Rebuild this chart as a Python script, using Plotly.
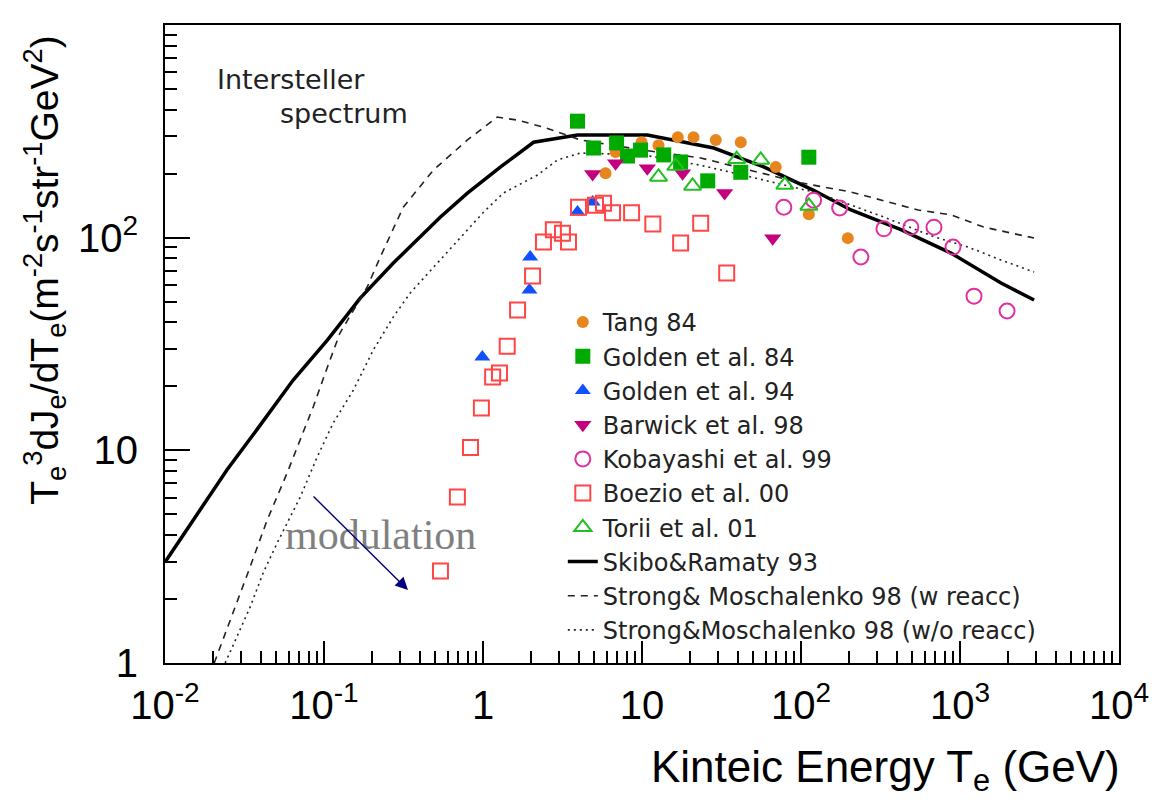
import plotly.graph_objects as go

# ---------------- data ----------------
tang_x = [5.90, 6.82, 9.94, 12.7, 16.8, 21.1, 29.1, 41.8, 69.4, 112, 197]
tang_y = [201, 253, 281, 272, 297, 297, 288, 281, 215, 129, 99.5]

golden84_x = [3.93, 4.96, 6.92, 8.11, 9.80, 13.7, 17.5, 25.9, 41.8, 112]
golden84_y = [353, 264, 279, 242, 258, 245, 227, 185, 203, 239]

golden94_x = [0.99, 1.96, 1.98, 3.93, 4.89]
golden94_y = [27.5, 56.7, 81.1, 132, 147]

barwick_x = [4.89, 6.82, 10.8, 18.0, 33.1, 66.4]
barwick_y = [199, 224, 212, 201, 162, 99.5]

kobayashi_x = [78.0, 120, 175, 238, 332, 491, 686, 904, 1225, 1977]
kobayashi_y = [139, 150, 138, 81.1, 110, 112, 112, 90.3, 53.1, 45.2]

boezio_x = [0.540, 0.690, 0.834, 0.977, 1.15, 1.27, 1.42, 1.65, 2.05, 2.40, 2.77,
            3.16, 3.45, 3.99, 5.10, 5.73, 6.53, 8.60, 11.7, 17.5, 23.4, 34.1]
boezio_y = [2.71, 6.03, 10.3, 15.8, 22.1, 23.1, 30.9, 45.7, 66.0, 95.3, 109,
            105, 95.3, 139, 142, 145, 131, 131, 116, 94.3, 117, 68.2]

torii_x = [12.7, 16.3, 20.8, 39.4, 55.8, 79.1, 112]
torii_y = [193, 217, 175, 234, 232, 177, 141]

skibo_x = [0.01, 0.0150, 0.0245, 0.0396, 0.0640, 0.105, 0.169, 0.273, 0.540, 0.798,
           1.29, 2.08, 3.93, 10.8, 28.3, 58.3, 120, 206, 425, 877, 1811, 2924]
skibo_y = [2.98, 4.70, 8.08, 13.1, 21.4, 33.0, 52.0, 76.0, 125, 162,
           215, 281, 304, 304, 264, 215, 167, 135, 109, 84.6, 61.2, 50.9]

strong_w_x = [0.0204, 0.0268, 0.0343, 0.0439, 0.0586, 0.0708, 0.0855, 0.105, 0.126,
              0.187, 0.226, 0.315, 0.488, 0.798, 1.23, 1.65, 2.40, 4.10, 10.2, 23.4,
              48.3, 99.8, 206, 545, 877, 1416, 2924]
strong_w_y = [1.0, 1.72, 2.83, 4.70, 7.82, 11.2, 16.0, 24.6, 35.6,
              58.6, 81.1, 139, 208, 288, 369, 357, 331, 288, 258, 237,
              208, 181, 164, 135, 128, 112, 99.6]

strong_wo_x = [0.0239, 0.0288, 0.0343, 0.0414, 0.0507, 0.0708, 0.0906, 0.114, 0.153,
               0.204, 0.273, 0.349, 0.540, 1.0, 1.34, 2.20, 2.94, 4.10, 10.2, 23.4,
               48.3, 128, 332, 685, 1122, 1811, 2924]
strong_wo_y = [1.0, 1.38, 1.83, 2.65, 3.66, 6.02, 9.30, 13.4, 19.2,
               29.6, 42.4, 55.0, 78.5, 131, 162, 197, 232, 250, 245, 219,
               193, 162, 125, 101, 90.4, 78.5, 68.9]

x_tick_vals = [0.01, 0.1, 1, 10, 100, 1000, 10000]
x_tick_text = ["10<sup>-2</sup>", "10<sup>-1</sup>", "1", "10",
               "10<sup>2</sup>", "10<sup>3</sup>", "10<sup>4</sup>"]
y_tick_vals = [1, 10, 100]
y_tick_text = ["1", "10", "10<sup>2</sup>"]

# minor tick positions (2..9 in each decade)
x_minor = [m * 10 ** e for e in range(-2, 4) for m in range(2, 10)]
y_minor = [m * 10 ** e for e in range(0, 3) for m in range(2, 10)]

# ---------------- figure ----------------
fig = go.Figure()

# model curves (drawn first so markers sit on top)
fig.add_trace(go.Scatter(x=skibo_x, y=skibo_y, mode="lines", name="Skibo&amp;Ramaty 93",
                         line=dict(color="black", width=3.5), legendrank=8))
fig.add_trace(go.Scatter(x=strong_w_x, y=strong_w_y, mode="lines",
                         name="Strong&amp; Moschalenko 98 (w reacc)",
                         line=dict(color="#222222", width=1.6, dash="7px,6px"), legendrank=9))
fig.add_trace(go.Scatter(x=strong_wo_x, y=strong_wo_y, mode="lines",
                         name="Strong&amp;Moschalenko 98 (w/o reacc)",
                         line=dict(color="#222222", width=1.6, dash="2px,4px"), legendrank=10))

fig.add_trace(go.Scatter(x=tang_x, y=tang_y, mode="markers", name="Tang 84",
                         marker=dict(symbol="circle", size=12, color="#E8861E"), legendrank=1))
fig.add_trace(go.Scatter(x=golden84_x, y=golden84_y, mode="markers", name="Golden et al. 84",
                         marker=dict(symbol="square", size=15, color="#00AA00"), legendrank=2))
fig.add_trace(go.Scatter(x=golden94_x, y=golden94_y, mode="markers", name="Golden et al. 94",
                         marker=dict(symbol="triangle-up", size=14, color="#1050FF"), legendrank=3))
fig.add_trace(go.Scatter(x=barwick_x, y=barwick_y, mode="markers", name="Barwick et al. 98",
                         marker=dict(symbol="triangle-down", size=15, color="#C4007E"), legendrank=4))
fig.add_trace(go.Scatter(x=kobayashi_x, y=kobayashi_y, mode="markers", name="Kobayashi et al. 99",
                         marker=dict(symbol="circle-open", size=15, color="#E0309F",
                                     line=dict(width=2)), legendrank=5))
fig.add_trace(go.Scatter(x=boezio_x, y=boezio_y, mode="markers", name="Boezio et al. 00",
                         marker=dict(symbol="square-open", size=15, color="#FF4545",
                                     line=dict(width=2)), legendrank=6))
fig.add_trace(go.Scatter(x=torii_x, y=torii_y, mode="markers", name="Torii et al. 01",
                         marker=dict(symbol="triangle-up-open", size=15, color="#22C022",
                                     line=dict(width=2)), legendrank=7))

axis_common = dict(
    type="log", showgrid=False, zeroline=False,
    showline=True, linecolor="black", linewidth=2, mirror=True,
    ticks="inside", tickcolor="black", tickwidth=1.5,
    tickfont=dict(family="Liberation Sans, Arial, sans-serif", size=40, color="black"),
)

fig.update_xaxes(
    **axis_common, range=[-2, 4],
    tickmode="array", tickvals=x_tick_vals, ticktext=x_tick_text, ticklen=22,
    ticklabelstandoff=6,
    minor=dict(ticks="inside", tickmode="array", tickvals=x_minor, ticklen=12,
               tickwidth=1.5, tickcolor="black", showgrid=False),
)
fig.update_yaxes(
    **axis_common, range=[0, 3],
    tickmode="array", tickvals=y_tick_vals, ticktext=y_tick_text, ticklen=25,
    ticklabelstandoff=17,
    minor=dict(ticks="inside", tickmode="array", tickvals=y_minor, ticklen=12,
               tickwidth=1.5, tickcolor="black", showgrid=False),
)

annotations = [
    dict(text="Intersteller", xref="paper", yref="paper", x=0.0524, y=0.914,
         xanchor="left", yanchor="middle", showarrow=False,
         font=dict(family="DejaVu Sans, sans-serif", size=27, color="#222222")),
    dict(text="spectrum", xref="paper", yref="paper", x=0.1184, y=0.862,
         xanchor="left", yanchor="middle", showarrow=False,
         font=dict(family="DejaVu Sans, sans-serif", size=27, color="#222222")),
    dict(text="modulation", xref="paper", yref="paper", x=0.2264, y=0.2006,
         xanchor="center", yanchor="middle", showarrow=False,
         font=dict(family="Liberation Serif, Times New Roman, serif", size=42, color="#808080")),
    dict(text="", xref="x domain", yref="y domain", x=0.2547, y=0.1144,
         axref="x domain", ayref="y domain", ax=0.1541, ay=0.2633,
         showarrow=True, arrowhead=2, arrowsize=1.8, arrowwidth=1.4,
         arrowcolor="#000080", standoff=0),
    dict(text="T<sub>e</sub><sup>3</sup>dJ<sub>e</sub>/dT<sub>e</sub>(m<sup>-2</sup>s<sup>-1</sup>str<sup>-1</sup>GeV<sup>2</sup>)",
         xref="paper", yref="paper", x=-0.126, y=0.616, textangle=-90,
         xanchor="center", yanchor="middle", showarrow=False,
         font=dict(family="Liberation Sans, Arial, sans-serif", size=39, color="black")),
    dict(text="Kinteic Energy T<sub>e</sub> (GeV)", xref="paper", yref="paper",
         x=1.003, y=-0.168, xanchor="right", yanchor="middle", showarrow=False,
         font=dict(family="Liberation Sans, Arial, sans-serif", size=44, color="black")),
]

fig.update_layout(
    width=1169, height=802,
    margin=dict(l=165, r=50, t=25, b=139),
    paper_bgcolor="white", plot_bgcolor="white",
    annotations=annotations,
    showlegend=True,
    legend=dict(x=0.417, y=0.569, xanchor="left", yanchor="top",
                bgcolor="rgba(0,0,0,0)", borderwidth=0,
                font=dict(family="DejaVu Sans, sans-serif", size=24, color="#222222"),
                itemwidth=30, tracegroupgap=0),
)

fig.write_html("out.html")
